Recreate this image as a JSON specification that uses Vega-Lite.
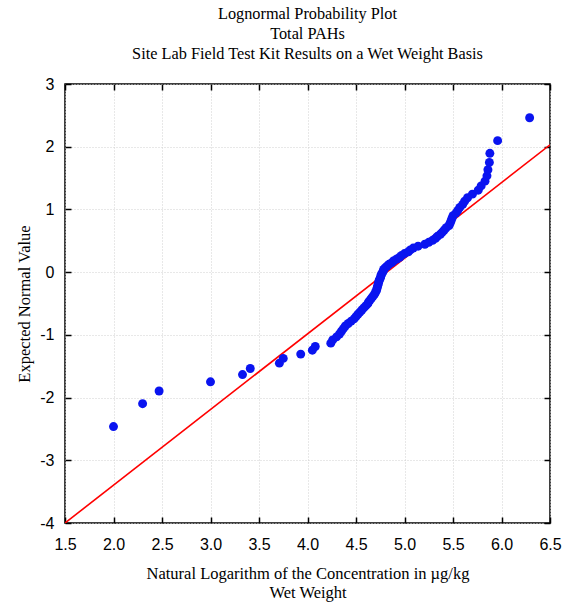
{
  "$schema": "https://vega.github.io/schema/vega-lite/v6.json",
  "width": 485,
  "height": 439,
  "autosize": "none",
  "padding": {"left": 65, "top": 84, "right": 17, "bottom": 84},
  "background": "white",
  "config": {
    "view": {"stroke": "black", "strokeWidth": 1.5},
    "axis": {
      "labelFont": "Liberation Sans",
      "labelFontSize": 16,
      "labelColor": "black",
      "titleFont": "Liberation Serif",
      "titleFontSize": 16.5,
      "titleFontWeight": "normal",
      "titleColor": "black",
      "domain": false,
      "tickColor": "black",
      "tickSize": -6,
      "tickWidth": 1.5,
      "gridColor": "#d0d0d0",
      "gridDash": [1, 2],
      "gridWidth": 1
    }
  },
  "title": {
    "text": ["Lognormal Probability Plot", "Total PAHs", "Site Lab Field Test Kit Results on a Wet Weight Basis"],
    "font": "Liberation Serif",
    "fontSize": 16.3,
    "fontWeight": "normal",
    "lineHeight": 20,
    "anchor": "middle",
    "frame": "group",
    "offset": 14,
    "color": "black"
  },
  "datasets": {
    "pts": [
      {"lnconc": 2.00, "z": -2.462},
      {"lnconc": 2.30, "z": -2.097},
      {"lnconc": 2.47, "z": -1.895},
      {"lnconc": 3.00, "z": -1.749},
      {"lnconc": 3.33, "z": -1.633},
      {"lnconc": 3.41, "z": -1.536},
      {"lnconc": 3.71, "z": -1.451},
      {"lnconc": 3.75, "z": -1.375},
      {"lnconc": 3.93, "z": -1.307},
      {"lnconc": 4.05, "z": -1.244},
      {"lnconc": 4.08, "z": -1.186},
      {"lnconc": 4.24, "z": -1.132},
      {"lnconc": 4.26, "z": -1.081},
      {"lnconc": 4.30, "z": -1.032},
      {"lnconc": 4.33, "z": -0.986},
      {"lnconc": 4.35, "z": -0.942},
      {"lnconc": 4.37, "z": -0.900},
      {"lnconc": 4.39, "z": -0.859},
      {"lnconc": 4.42, "z": -0.819},
      {"lnconc": 4.45, "z": -0.781},
      {"lnconc": 4.48, "z": -0.744},
      {"lnconc": 4.50, "z": -0.708},
      {"lnconc": 4.52, "z": -0.672},
      {"lnconc": 4.54, "z": -0.638},
      {"lnconc": 4.56, "z": -0.604},
      {"lnconc": 4.58, "z": -0.571},
      {"lnconc": 4.60, "z": -0.539},
      {"lnconc": 4.62, "z": -0.507},
      {"lnconc": 4.63, "z": -0.476},
      {"lnconc": 4.645, "z": -0.445},
      {"lnconc": 4.66, "z": -0.414},
      {"lnconc": 4.675, "z": -0.384},
      {"lnconc": 4.69, "z": -0.354},
      {"lnconc": 4.70, "z": -0.325},
      {"lnconc": 4.71, "z": -0.296},
      {"lnconc": 4.715, "z": -0.267},
      {"lnconc": 4.72, "z": -0.238},
      {"lnconc": 4.725, "z": -0.210},
      {"lnconc": 4.73, "z": -0.182},
      {"lnconc": 4.735, "z": -0.153},
      {"lnconc": 4.74, "z": -0.125},
      {"lnconc": 4.75, "z": -0.097},
      {"lnconc": 4.755, "z": -0.069},
      {"lnconc": 4.76, "z": -0.042},
      {"lnconc": 4.77, "z": -0.014},
      {"lnconc": 4.78, "z": 0.014},
      {"lnconc": 4.785, "z": 0.042},
      {"lnconc": 4.80, "z": 0.069},
      {"lnconc": 4.82, "z": 0.097},
      {"lnconc": 4.84, "z": 0.125},
      {"lnconc": 4.87, "z": 0.153},
      {"lnconc": 4.89, "z": 0.182},
      {"lnconc": 4.92, "z": 0.210},
      {"lnconc": 4.95, "z": 0.238},
      {"lnconc": 4.97, "z": 0.267},
      {"lnconc": 5.00, "z": 0.296},
      {"lnconc": 5.04, "z": 0.325},
      {"lnconc": 5.06, "z": 0.354},
      {"lnconc": 5.09, "z": 0.384},
      {"lnconc": 5.14, "z": 0.414},
      {"lnconc": 5.21, "z": 0.445},
      {"lnconc": 5.25, "z": 0.476},
      {"lnconc": 5.29, "z": 0.507},
      {"lnconc": 5.32, "z": 0.539},
      {"lnconc": 5.34, "z": 0.571},
      {"lnconc": 5.37, "z": 0.604},
      {"lnconc": 5.39, "z": 0.638},
      {"lnconc": 5.41, "z": 0.672},
      {"lnconc": 5.43, "z": 0.708},
      {"lnconc": 5.46, "z": 0.744},
      {"lnconc": 5.47, "z": 0.781},
      {"lnconc": 5.48, "z": 0.819},
      {"lnconc": 5.49, "z": 0.859},
      {"lnconc": 5.50, "z": 0.900},
      {"lnconc": 5.53, "z": 0.942},
      {"lnconc": 5.55, "z": 0.986},
      {"lnconc": 5.57, "z": 1.032},
      {"lnconc": 5.60, "z": 1.081},
      {"lnconc": 5.62, "z": 1.132},
      {"lnconc": 5.65, "z": 1.186},
      {"lnconc": 5.70, "z": 1.244},
      {"lnconc": 5.76, "z": 1.307},
      {"lnconc": 5.79, "z": 1.375},
      {"lnconc": 5.83, "z": 1.451},
      {"lnconc": 5.85, "z": 1.536},
      {"lnconc": 5.86, "z": 1.633},
      {"lnconc": 5.875, "z": 1.749},
      {"lnconc": 5.88, "z": 1.895},
      {"lnconc": 5.96, "z": 2.097},
      {"lnconc": 6.29, "z": 2.462}
    ],
    "fit": [
      {"lnconc": 1.5, "z": -4.0},
      {"lnconc": 6.5, "z": 2.03}
    ]
  },
  "layer": [
    {
      "data": {"name": "fit"},
      "mark": {"type": "line", "color": "#ff0000", "strokeWidth": 1.6, "clip": true},
      "encoding": {
        "x": {
          "field": "lnconc", "type": "quantitative",
          "scale": {"domain": [1.5, 6.5], "nice": false, "zero": false},
          "axis": {
            "orient": "bottom",
            "values": [1.5, 2.0, 2.5, 3.0, 3.5, 4.0, 4.5, 5.0, 5.5, 6.0, 6.5],
            "format": ".1f",
            "labelPadding": 19,
            "labelFlush": false,
            "title": ["Natural Logarithm of the Concentration in µg/kg", "Wet Weight"],
            "titleLineHeight": 19,
            "titlePadding": 13
          }
        },
        "y": {
          "field": "z", "type": "quantitative",
          "scale": {"domain": [-4, 3], "nice": false, "zero": false},
          "axis": {
            "orient": "left",
            "values": [-4, -3, -2, -1, 0, 1, 2, 3],
            "labelExpr": "datum.value < 0 ? '-' + abs(datum.value) : '' + datum.value",
            "labelPadding": 17,
            "labelFlush": false,
            "title": "Expected Normal Value",
            "titlePadding": 7
          }
        }
      }
    },
    {
      "data": {"name": "pts"},
      "mark": {"type": "point", "shape": "circle", "filled": true, "color": "#0a14f0", "opacity": 1, "size": 80},
      "encoding": {
        "x": {"field": "lnconc", "type": "quantitative", "axis": {"orient": "top", "labels": false, "title": null, "grid": false, "values": [1.5, 2.0, 2.5, 3.0, 3.5, 4.0, 4.5, 5.0, 5.5, 6.0, 6.5]}},
        "y": {"field": "z", "type": "quantitative", "axis": {"orient": "right", "labels": false, "title": null, "grid": false, "values": [-4, -3, -2, -1, 0, 1, 2, 3]}}
      }
    }
  ]
}
